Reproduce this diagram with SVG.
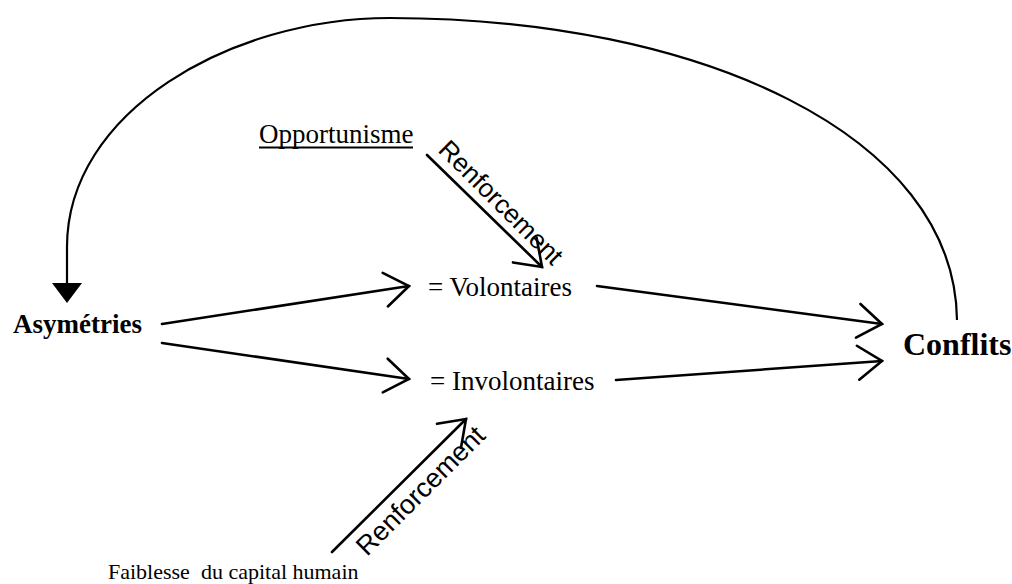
<svg xmlns="http://www.w3.org/2000/svg" width="1012" height="584" viewBox="0 0 1012 584">
  <style>
    .serif { font-family: "Liberation Serif", "Times New Roman", serif; fill: #000; }
    .sans { font-family: "Liberation Sans", Arial, sans-serif; fill: #000; }
    .bold { font-weight: bold; }
    .link { fill: none; stroke: #000; stroke-width: 2.6; stroke-linecap: round; }
    .loop { fill: none; stroke: #000; stroke-width: 2.2; }
  </style>
  <defs>
    <marker id="open" markerUnits="userSpaceOnUse" markerWidth="40" markerHeight="40" refX="0" refY="0" orient="auto" overflow="visible">
      <path d="M -24 -17 L 0 0 L -24 17" fill="none" stroke="#000" stroke-width="2.6" stroke-linecap="round" stroke-linejoin="miter"/>
    </marker>
    <marker id="solid" markerUnits="userSpaceOnUse" markerWidth="40" markerHeight="40" refX="0" refY="0" orient="auto" overflow="visible">
      <path d="M 0 -15 L 20 0 L 0 15 Z" fill="#000"/>
    </marker>
  </defs>

  <rect width="1012" height="584" fill="#fff"/>

  <!-- connectors -->
  <g id="connectors">
    <!-- feedback loop from Conflits back to Asymétries -->
    <path class="loop" d="M 957 320 C 955 135 700 18 390 18 C 230 18 67 112 67 247 L 67 283" marker-end="url(#solid)"/>
    <line class="link" x1="162" y1="324" x2="409" y2="286" marker-end="url(#open)"/>
    <line class="link" x1="162" y1="343" x2="409" y2="379" marker-end="url(#open)"/>
    <line class="link" x1="597" y1="286" x2="882" y2="324" marker-end="url(#open)"/>
    <line class="link" x1="616" y1="380" x2="882" y2="361" marker-end="url(#open)"/>
    <line class="link" x1="427" y1="155" x2="542" y2="267" marker-end="url(#open)"/>
    <line class="link" x1="332" y1="552" x2="466" y2="419" marker-end="url(#open)"/>
    <text class="sans" font-size="26" transform="translate(437,151) rotate(45)">Renforcement</text>
    <text class="sans" font-size="27" transform="translate(367,557) rotate(-45)">Renforcement</text>
  </g>

  <g id="asymetries">
    <text class="serif bold" x="13" y="333" font-size="27">Asymétries</text>
  </g>
  <g id="opportunisme">
    <text class="serif" x="259" y="143" font-size="27">Opportunisme</text>
    <line x1="259" y1="147.5" x2="413" y2="147.5" stroke="#000" stroke-width="2"/>
  </g>
  <g id="volontaires">
    <text class="serif" x="428" y="296" font-size="27">= Volontaires</text>
  </g>
  <g id="involontaires">
    <text class="serif" x="430" y="390" font-size="27">= Involontaires</text>
  </g>
  <g id="conflits">
    <text class="serif bold" x="903" y="355" font-size="32">Conflits</text>
  </g>
  <g id="faiblesse">
    <text class="serif" x="108" y="579" font-size="22" xml:space="preserve">Faiblesse  du capital humain</text>
  </g>
</svg>
